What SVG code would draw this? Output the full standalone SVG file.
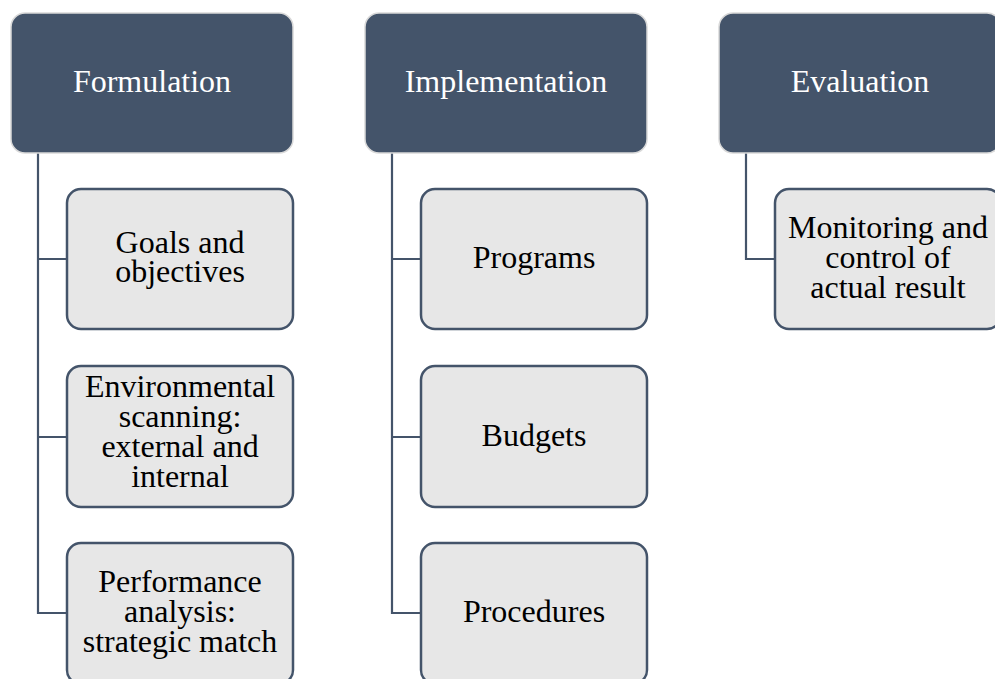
<svg xmlns="http://www.w3.org/2000/svg" width="995" height="679" viewBox="0 0 995 679">
  <style>
    .head rect { fill: #44546a; stroke: #d9d9d9; stroke-width: 1.5; }
    .head text { fill: #ffffff; font-family: "Liberation Serif", "Times New Roman", serif; font-size: 32px; text-anchor: middle; }
    .item rect { fill: #e7e7e7; stroke: #44546a; stroke-width: 2.5; }
    .item text { fill: #000000; font-family: "Liberation Serif", "Times New Roman", serif; font-size: 32px; text-anchor: middle; }
    .links path { fill: none; stroke: #44546a; stroke-width: 2.2; }
  </style>

  <!-- connectors: one vertical spine per column with horizontal branches -->
  <g id="connectors" class="links">
    <path d="M38,153 V613 H67 M38,259 H67 M38,437 H67"/>
    <path d="M392,153 V613 H421 M392,259 H421 M392,437 H421"/>
    <path d="M746,153 V259 H775"/>
  </g>

  <!-- column headers -->
  <g id="formulation" class="head">
    <rect x="11" y="13" width="282" height="140" rx="14"/>
    <text x="152" y="92">Formulation</text>
  </g>
  <g id="implementation" class="head">
    <rect x="365" y="13" width="282" height="140" rx="14"/>
    <text x="506" y="92">Implementation</text>
  </g>
  <g id="evaluation" class="head">
    <rect x="719" y="13" width="282" height="140" rx="14"/>
    <text x="860" y="92">Evaluation</text>
  </g>

  <!-- formulation items -->
  <g id="goals" class="item">
    <rect x="67" y="189" width="226" height="140" rx="14"/>
    <text x="180" y="253">Goals and</text>
    <text x="180" y="282">objectives</text>
  </g>
  <g id="scanning" class="item">
    <rect x="67" y="366" width="226" height="141" rx="14"/>
    <text x="180" y="397">Environmental</text>
    <text x="180" y="427">scanning:</text>
    <text x="180" y="457">external and</text>
    <text x="180" y="487">internal</text>
  </g>
  <g id="performance" class="item">
    <rect x="67" y="543" width="226" height="141" rx="14"/>
    <text x="180" y="592">Performance</text>
    <text x="180" y="622">analysis:</text>
    <text x="180" y="652">strategic match</text>
  </g>

  <!-- implementation items -->
  <g id="programs" class="item">
    <rect x="421" y="189" width="226" height="140" rx="14"/>
    <text x="534" y="268">Programs</text>
  </g>
  <g id="budgets" class="item">
    <rect x="421" y="366" width="226" height="141" rx="14"/>
    <text x="534" y="446">Budgets</text>
  </g>
  <g id="procedures" class="item">
    <rect x="421" y="543" width="226" height="141" rx="14"/>
    <text x="534" y="622">Procedures</text>
  </g>

  <!-- evaluation item -->
  <g id="monitoring" class="item">
    <rect x="775" y="189" width="226" height="140" rx="14"/>
    <text x="888" y="238">Monitoring and</text>
    <text x="888" y="268">control of</text>
    <text x="888" y="298">actual result</text>
  </g>
</svg>
